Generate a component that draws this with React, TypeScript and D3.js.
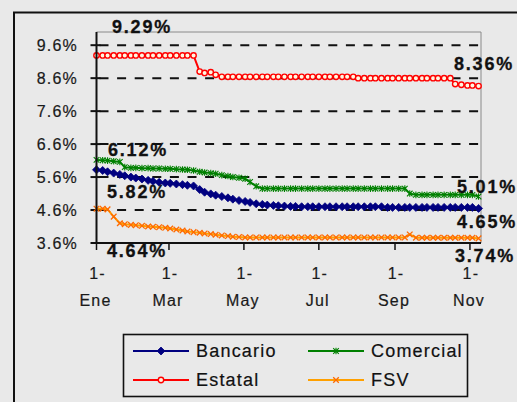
import React from "react";
import * as d3 from "d3";

// Day offsets from 1-Ene for each observation
const DAYS = [0,5,9,14,19,23,28,32,37,42,46,51,56,60,65,70,74,79,84,88,93,97,102,107,111,116,121,125,130,135,139,144,148,153,158,162,167,172,176,181,186,190,195,200,204,209,213,218,223,227,232,237,241,246,251,255,260,265,269,274,278,283,288,292,297,302,306,311];

const BANCARIO = [5.82,5.80,5.76,5.72,5.68,5.64,5.60,5.57,5.54,5.50,5.47,5.44,5.42,5.41,5.39,5.37,5.35,5.33,5.22,5.14,5.09,5.05,5.01,4.97,4.93,4.89,4.86,4.83,4.79,4.77,4.75,4.74,4.73,4.72,4.71,4.71,
4.70,4.70,4.70,4.70,4.70,4.70,4.70,4.70,4.70,4.70,4.70,4.70,4.70,4.70,4.70,
4.68,4.68,4.68,4.68,4.68,4.68,4.68,4.68,4.68,4.68,4.68,4.68,4.68,4.68,4.68,4.68,4.65];

const COMERCIAL = [6.12,6.11,6.10,6.08,6.06,5.90,5.88,5.88,5.87,5.87,5.86,5.86,5.85,5.85,5.84,5.83,5.82,5.80,5.76,5.74,5.72,5.70,5.66,5.63,5.60,5.58,5.55,5.45,5.32,
5.25,5.25,5.25,5.25,5.25,5.25,5.25,5.25,5.25,5.25,5.25,5.25,5.25,5.25,5.25,5.25,5.25,5.25,5.25,5.25,5.25,5.25,5.25,5.25,5.25,5.25,
5.10,5.06,5.06,5.06,5.06,5.06,5.06,5.06,5.06,5.06,5.06,5.06,5.01];

const ESTATAL = [9.29,9.29,9.29,9.29,9.29,9.29,9.29,9.29,9.29,9.29,9.29,9.29,9.29,9.29,9.29,9.29,9.29,9.29,
8.80,8.76,8.78,8.70,
8.64,8.64,8.64,8.64,8.64,8.64,8.64,8.64,8.64,8.64,8.64,8.64,8.64,8.64,8.64,8.64,8.64,8.64,8.64,8.64,8.64,8.64,8.64,8.64,
8.60,8.60,8.60,8.60,8.60,8.60,8.60,8.60,8.60,8.60,8.60,8.60,8.60,8.60,8.60,8.60,8.60,
8.42,8.40,8.38,8.38,8.36];

const FSV = [4.64,4.64,4.62,4.40,4.20,4.17,4.15,4.14,4.12,4.10,4.09,4.08,4.06,4.04,4.01,3.98,3.95,3.93,3.91,3.89,3.87,3.85,3.83,3.81,3.79,3.78,
3.77,3.77,3.77,3.77,3.77,3.77,3.77,3.77,3.77,3.77,3.77,3.77,3.77,3.77,3.77,3.77,3.77,3.77,3.77,3.77,3.77,3.77,3.77,3.77,3.77,3.77,3.77,3.77,3.77,
3.86,3.76,3.76,3.76,3.76,3.76,3.76,3.76,3.76,3.76,3.76,3.76,3.74];

const Y_TICKS = [3.6, 4.6, 5.6, 6.6, 7.6, 8.6, 9.6];
const MONTH_LABELS = ["Ene", "Mar", "May", "Jul", "Sep", "Nov"];
const SERIES_NAMES = ["Bancario", "Comercial", "Estatal", "FSV"];

const FONT = "'Liberation Sans', Arial, sans-serif";

function Marker({ kind, x, y }: { kind: string; x: number; y: number }) {
  if (kind === "Bancario") {
    const s = 4;
    return <path d={`M${x},${y - s}L${x + s},${y}L${x},${y + s}L${x - s},${y}Z`} fill="#000080" stroke="#000080" strokeWidth={0.8} />;
  }
  if (kind === "Comercial") {
    const s = 2.8;
    return (
      <g stroke="#008000" strokeWidth={1.1} fill="none">
        <path d={`M${x - s},${y - s}L${x + s},${y + s}M${x - s},${y + s}L${x + s},${y - s}M${x},${y - s - 0.5}L${x},${y + s + 0.5}`} />
      </g>
    );
  }
  if (kind === "Estatal") {
    return <circle cx={x} cy={y} r={2.7} fill="#fff6e0" stroke="#ff0000" strokeWidth={1.4} />;
  }
  const s = 2.8;
  return <path d={`M${x - s},${y - s}L${x + s},${y + s}M${x - s},${y + s}L${x + s},${y - s}`} stroke="#ff6a00" strokeWidth={1.3} fill="none" />;
}

const COLORS: Record<string, string> = {
  Bancario: "#000080",
  Comercial: "#008000",
  Estatal: "#ff0000",
  FSV: "#ffa000",
};

export default function App() {
  const W = 517, H = 402;
  const left = 96.5, right = 481, top = 32, bottom = 243;
  const start = new Date(2001, 0, 1);
  const dates = DAYS.map((d) => d3.timeDay.offset(start, d));
  const x = d3.scaleTime().domain([start, new Date(2001, 10, 10)]).range([left, right]);
  const y = d3.scaleLinear().domain([3.6, 10]).range([bottom, top]);

  const seriesData: Record<string, number[]> = {
    Bancario: BANCARIO,
    Comercial: COMERCIAL,
    Estatal: ESTATAL,
    FSV: FSV,
  };

  const line = d3
    .line<[Date, number]>()
    .x((d) => x(d[0]))
    .y((d) => y(d[1]));

  const monthTicks = d3.timeMonth.every(2)!.range(start, new Date(2001, 10, 2));

  const drawOrder = ["Estatal", "FSV", "Comercial", "Bancario"];

  const labelStyle = { fontFamily: FONT, fontSize: 18, fontWeight: 700, letterSpacing: 1.8, fill: "#111", stroke: "#111", strokeWidth: 0.3 } as const;
  const tickStyle = { fontFamily: FONT, fontSize: 16, letterSpacing: 1.2, fill: "#1a1a1a", stroke: "#1a1a1a", strokeWidth: 0.2 } as const;

  return (
    <div style={{ position: "absolute", left: 0, top: 0 }}>
      <svg width={W} height={H} style={{ display: "block" }}>
        <rect x={0} y={0} width={W} height={H} fill="#e9e9e9" />
        <rect x={14} y={12.5} width={W + 20} height={H + 20} fill="none" stroke="#111" strokeWidth={2} />

        {/* plot frame */}
        <path d={`M${left},${top}H${right}V${bottom}`} fill="none" stroke="#8a8a8a" strokeWidth={1} />

        {/* gridlines */}
        {Y_TICKS.filter((t) => t > 3.6).map((t) => (
          <line key={t} x1={left} x2={right - 1} y1={y(t)} y2={y(t)} stroke="#111" strokeWidth={2} strokeDasharray="9,8.6" strokeDashoffset={-3} />
        ))}

        {/* y ticks and labels */}
        {Y_TICKS.map((t) => (
          <g key={"yt" + t}>
            <line x1={left - 6} x2={left + 4} y1={y(t)} y2={y(t)} stroke="#111" strokeWidth={2} />
            <text x={78} y={y(t)} dy="0.36em" textAnchor="end" style={tickStyle}>
              {t.toFixed(1) + "%"}
            </text>
          </g>
        ))}

        {/* series */}
        {drawOrder.map((name) => {
          const vals = seriesData[name];
          const pts: [Date, number][] = vals.map((v, i) => [dates[i], v]);
          return (
            <g key={name}>
              <path d={line(pts) || ""} fill="none" stroke={COLORS[name]} strokeWidth={2} />
              {pts.map((p, i) => (
                <Marker key={i} kind={name} x={x(p[0])} y={y(p[1])} />
              ))}
            </g>
          );
        })}

        {/* axes */}
        <line x1={left} x2={left} y1={top} y2={bottom + 1} stroke="#111" strokeWidth={2} />
        <line x1={left - 1} x2={right} y1={bottom} y2={bottom} stroke="#111" strokeWidth={2} />

        {/* x ticks and labels */}
        {monthTicks.map((d, i) => (
          <g key={"xt" + i}>
            <line x1={x(d)} x2={x(d)} y1={bottom} y2={bottom + 7} stroke="#111" strokeWidth={1.5} />
            <text x={x(d) + 1} y={273} dy="0.36em" textAnchor="middle" style={tickStyle}>
              1-
            </text>
            <text x={x(d) - 1} y={300} dy="0.36em" textAnchor="middle" style={tickStyle}>
              {MONTH_LABELS[i]}
            </text>
          </g>
        ))}

        {/* data labels */}
        <text x={112} y={33} style={labelStyle}>{ESTATAL[0].toFixed(2) + "%"}</text>
        <text x={454} y={70} style={labelStyle}>{ESTATAL[ESTATAL.length - 1].toFixed(2) + "%"}</text>
        <text x={108} y={156} style={labelStyle}>{COMERCIAL[0].toFixed(2) + "%"}</text>
        <text x={107} y={198} style={labelStyle}>{BANCARIO[0].toFixed(2) + "%"}</text>
        <text x={107} y={257} style={labelStyle}>{FSV[0].toFixed(2) + "%"}</text>
        <text x={457} y={193} style={labelStyle}>{COMERCIAL[COMERCIAL.length - 1].toFixed(2) + "%"}</text>
        <text x={457} y={228} style={labelStyle}>{BANCARIO[BANCARIO.length - 1].toFixed(2) + "%"}</text>
        <text x={455} y={262} style={labelStyle}>{FSV[FSV.length - 1].toFixed(2) + "%"}</text>

        {/* legend */}
        <rect x={123.5} y={334.5} width={344} height={62} fill="#e9e9e9" stroke="#111" strokeWidth={1.6} />
        {SERIES_NAMES.map((name, i) => {
          const col = i % 2;
          const row = Math.floor(i / 2);
          const lx = col === 0 ? 133 : 308;
          const ly = row === 0 ? 351 : 380;
          return (
            <g key={"lg" + name}>
              <line x1={lx} x2={lx + 56} y1={ly} y2={ly} stroke={COLORS[name]} strokeWidth={2} />
              <Marker kind={name} x={lx + 28} y={ly} />
              <text x={lx + 63} y={ly} dy="0.36em" style={{ fontFamily: FONT, fontSize: 18, letterSpacing: 1.2, fill: "#111", stroke: "#111", strokeWidth: 0.2 }}>
                {name}
              </text>
            </g>
          );
        })}
      </svg>
    </div>
  );
}
